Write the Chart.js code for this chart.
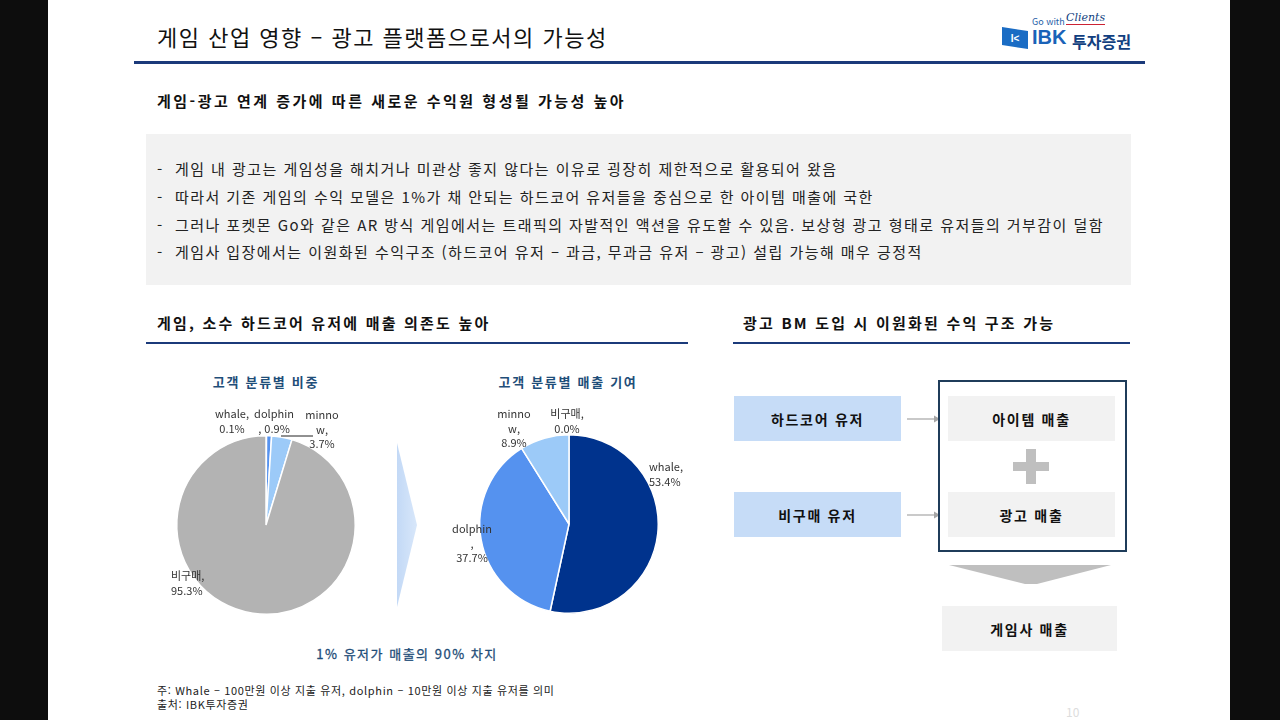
<!DOCTYPE html>
<html lang="ko">
<head>
<meta charset="UTF-8">
<title>게임 산업 영향 – 광고 플랫폼으로서의 가능성</title>
<script src="https://cdn.jsdelivr.net/npm/chart.js@4.4.1/dist/chart.umd.min.js"></script>
<style>
    body{ margin:0; width:1280px; height:720px; background:#0d0d0d; overflow:hidden;
          font-family:"Noto Sans CJK KR","Noto Sans",sans-serif; }
    #slide{ position:absolute; left:48px; top:0; width:1182px; height:720px; background:#fff; }
    .abs{ position:absolute; white-space:nowrap; }
    .title{ left:157px; top:20px; font-size:22px; letter-spacing:1.5px; color:#111; }
    .rule{ background:#1b3a7a; }
    .sub{ font-size:15px; font-weight:bold; color:#111; letter-spacing:2.2px; }
    #bullets{ left:146px; top:134px; width:985px; height:151px; background:#f2f2f2; }
    #bullets div{ position:absolute; left:11px; font-size:15px; letter-spacing:1.45px; color:#222; }
    .ctitle{ font-size:13px; font-weight:bold; color:#1f4e79; letter-spacing:1.7px; transform:translateX(-50%); }
    .box{ position:absolute; display:flex; align-items:center; justify-content:center;
          font-size:14px; font-weight:bold; color:#111; letter-spacing:1.7px; }
    .blue{ background:#c6dcf7; }
    .grey{ background:#f2f2f2; }
    .note{ left:157px; font-size:11px; color:#222; letter-spacing:0.65px; }
</style>
</head>
<body>
<div id="slide"></div>

<div class="abs title">게임 산업 영향 – 광고 플랫폼으로서의 가능성</div>
<div class="abs" style="left:1032px;top:15px;font-size:9px;color:#1f5fa8;">Go with</div>
<div class="abs" style="left:1066px;top:11px;font-size:11px;font-style:italic;font-family:'DejaVu Serif';color:#123f80;border-bottom:1px solid #c23;line-height:13px;">Clients</div>
<svg class="abs" style="left:1000px;top:26px;" width="32" height="24">
    <polygon points="2,1 28,5 28,23 2,19" fill="#1a6cc4"/>
    <text x="15" y="16" font-size="10" font-weight="bold" fill="#fff" text-anchor="middle" font-family="Liberation Sans">I&lt;</text>
</svg>
<div class="abs" style="left:1032px;top:26px;font-size:20px;font-weight:bold;color:#1a63b8;font-family:'Liberation Sans';">IBK</div>
<div class="abs" style="left:1072px;top:29px;font-size:16px;font-weight:bold;color:#123f80;">투자증권</div>
<div class="abs rule" style="left:134px;top:61px;width:1011px;height:3px;"></div>

<div class="abs sub" style="left:157px;top:90px;letter-spacing:2.5px;">게임-광고 연계 증가에 따른 새로운 수익원 형성될 가능성 높아</div>

<div class="abs" id="bullets">
    <div style="top:24px;">-&nbsp; 게임 내 광고는 게임성을 해치거나 미관상 좋지 않다는 이유로 굉장히 제한적으로 활용되어 왔음</div>
    <div style="top:52px;">-&nbsp; 따라서 기존 게임의 수익 모델은 1%가 채 안되는 하드코어 유저들을 중심으로 한 아이템 매출에 국한</div>
    <div style="top:80px;">-&nbsp; 그러나 포켓몬 Go와 같은 AR 방식 게임에서는 트래픽의 자발적인 액션을 유도할 수 있음. 보상형 광고 형태로 유저들의 거부감이 덜함</div>
    <div style="top:107px;">-&nbsp; 게임사 입장에서는 이원화된 수익구조 (하드코어 유저 – 과금, 무과금 유저 – 광고) 설립 가능해 매우 긍정적</div>
</div>

<div class="abs sub" style="left:157px;top:312px;">게임, 소수 하드코어 유저에 매출 의존도 높아</div>
<div class="abs rule" style="left:146px;top:342px;width:542px;height:2px;"></div>
<div class="abs sub" style="left:743px;top:312px;">광고 BM 도입 시 이원화된 수익 구조 가능</div>
<div class="abs rule" style="left:733px;top:342px;width:397px;height:2px;"></div>

<div class="abs ctitle" style="left:266px;top:372px;">고객 분류별 비중</div>
<div class="abs ctitle" style="left:568px;top:372px;">고객 분류별 매출 기여</div>

<div class="abs" style="left:150px;top:395px;width:250px;height:230px;"><canvas id="pieShare"></canvas></div>
<div class="abs" style="left:440px;top:395px;width:260px;height:230px;"><canvas id="pieRevenue"></canvas></div>

<svg class="abs" style="left:395px;top:440px;" width="26" height="170">
    <defs><linearGradient id="chev" x1="0" x2="1"><stop offset="0" stop-color="#c3d9f6"/><stop offset="1" stop-color="#d8e7fa"/></linearGradient></defs>
    <polygon points="2,3 22,85 2,167" fill="url(#chev)"/>
</svg>

<div class="abs ctitle" style="left:407px;top:644px;font-weight:normal;letter-spacing:1.5px;-webkit-text-stroke:0.3px #1f4e79;">1% 유저가 매출의 90% 차지</div>

<div class="abs note" style="top:682px;">주: Whale – 100만원 이상 지출 유저, dolphin – 10만원 이상 지출 유저를 의미</div>
<div class="abs note" style="top:696px;">출처: IBK투자증권</div>

<!-- right diagram -->
<div class="box blue" style="left:734px;top:396px;width:167px;height:45px;">하드코어 유저</div>
<div class="box blue" style="left:734px;top:492px;width:167px;height:45px;">비구매 유저</div>
<svg class="abs" style="left:900px;top:400px;" width="50" height="130">
    <line x1="7" y1="19" x2="36" y2="19" stroke="#a6a6a6" stroke-width="1.2"/>
    <polygon points="34,15.5 40,19 34,22.5" fill="#a6a6a6"/>
    <line x1="7" y1="115" x2="36" y2="115" stroke="#a6a6a6" stroke-width="1.2"/>
    <polygon points="34,111.5 40,115 34,118.5" fill="#a6a6a6"/>
</svg>
<div class="abs" style="left:938px;top:380px;width:185px;height:168px;border:2px solid #1f3c5a;"></div>
<div class="box grey" style="left:948px;top:396px;width:167px;height:45px;">아이템 매출</div>
<div class="abs" style="left:1013px;top:462px;width:36px;height:9px;background:#bfbfbf;"></div>
<div class="abs" style="left:1026px;top:449px;width:10px;height:35px;background:#bfbfbf;"></div>
<div class="box grey" style="left:948px;top:492px;width:167px;height:45px;">광고 매출</div>
<svg class="abs" style="left:945px;top:562px;" width="170" height="26">
    <polygon points="4,3 166,3 92,22 80,22" fill="#bfbfbf"/>
</svg>
<div class="box grey" style="left:942px;top:606px;width:175px;height:45px;">게임사 매출</div>

<div class="abs" style="left:1066px;top:703px;font-size:12px;color:#ddd;">10</div>

<script>
    // categories (slice order, clockwise from 12 o'clock)
    var segments = ['whale', 'dolphin', 'minnow', '비구매'];
    var segColors = ['#00338d', '#5592ef', '#9ccaf8', '#b3b3b3'];

    // 고객 분류별 비중 (%)
    var userShare = [0.1, 0.9, 3.7, 95.3];
    // 고객 분류별 매출 기여 (%)
    var revenueShare = [53.4, 37.7, 8.9, 0.0];

    // data label lines as Excel wrapped them, {v} = value
    var shareLabelLines = [['whale,', '{v}'], ['dolphin', ', {v}'], ['minno', 'w,', '{v}'], ['비구매,', '{v}']];
    var revenueLabelLines = [['whale,', '{v}'], ['dolphin', ',', '{v}'], ['minno', 'w,', '{v}'], ['비구매,', '{v}']];

    // label anchor offsets from pie centre (dx, dy of first line, align)
    var shareLabelPos = [[-34, -111, 'center'], [8, -111, 'center'], [56, -110, 'center'], [-95, 51, 'left']];
    var revenueLabelPos = [[80, -57, 'left'], [-97, 5, 'center'], [-55, -110, 'center'], [-2, -110, 'center']];

    var pieLabels = {
        id: 'pieLabels',
        afterDatasetsDraw: function(chart, args, opts) {
            var c = chart.ctx;
            var arc = chart.getDatasetMeta(0).data[0];
            var cx = arc.x, cy = arc.y;
            var vals = chart.data.datasets[0].data;
            c.save();
            c.font = '11px "Noto Sans CJK KR", sans-serif';
            c.fillStyle = '#333';
            c.textBaseline = 'middle';
            opts.lines.forEach(function(lines, i) {
                var p = opts.pos[i];
                c.textAlign = p[2];
                lines.forEach(function(t, k) {
                    c.fillText(t.replace('{v}', vals[i].toFixed(1) + '%'), cx + p[0], cy + p[1] + k * 14.5);
                });
            });
            if (opts.leader) {
                c.strokeStyle = '#222';
                c.lineWidth = 1;
                c.beginPath();
                c.moveTo(cx + opts.leader[0], cy + opts.leader[2]);
                c.lineTo(cx + opts.leader[1], cy + opts.leader[2]);
                c.stroke();
            }
            c.restore();
        }
    };

    function makePie(id, values, padding, lines, pos, leader) {
        return new Chart(document.getElementById(id), {
            type: 'pie',
            data: {
                labels: segments,
                datasets: [{
                    data: values,
                    backgroundColor: segColors,
                    borderColor: '#fff',
                    borderWidth: 1.5
                }]
            },
            options: {
                responsive: true,
                maintainAspectRatio: false,
                animation: false,
                layout: { padding: padding },
                plugins: {
                    legend: { display: false },
                    tooltip: { enabled: false },
                    pieLabels: { lines: lines, pos: pos, leader: leader }
                }
            },
            plugins: [pieLabels]
        });
    }

    makePie('pieShare', userShare, { left: 26, right: 44, top: 40, bottom: 10 },
            shareLabelLines, shareLabelPos, [15, 47, -89]);
    makePie('pieRevenue', revenueShare, { left: 39, right: 41, top: 39, bottom: 11 },
            revenueLabelLines, revenueLabelPos, null);
</script>
</body>
</html>
